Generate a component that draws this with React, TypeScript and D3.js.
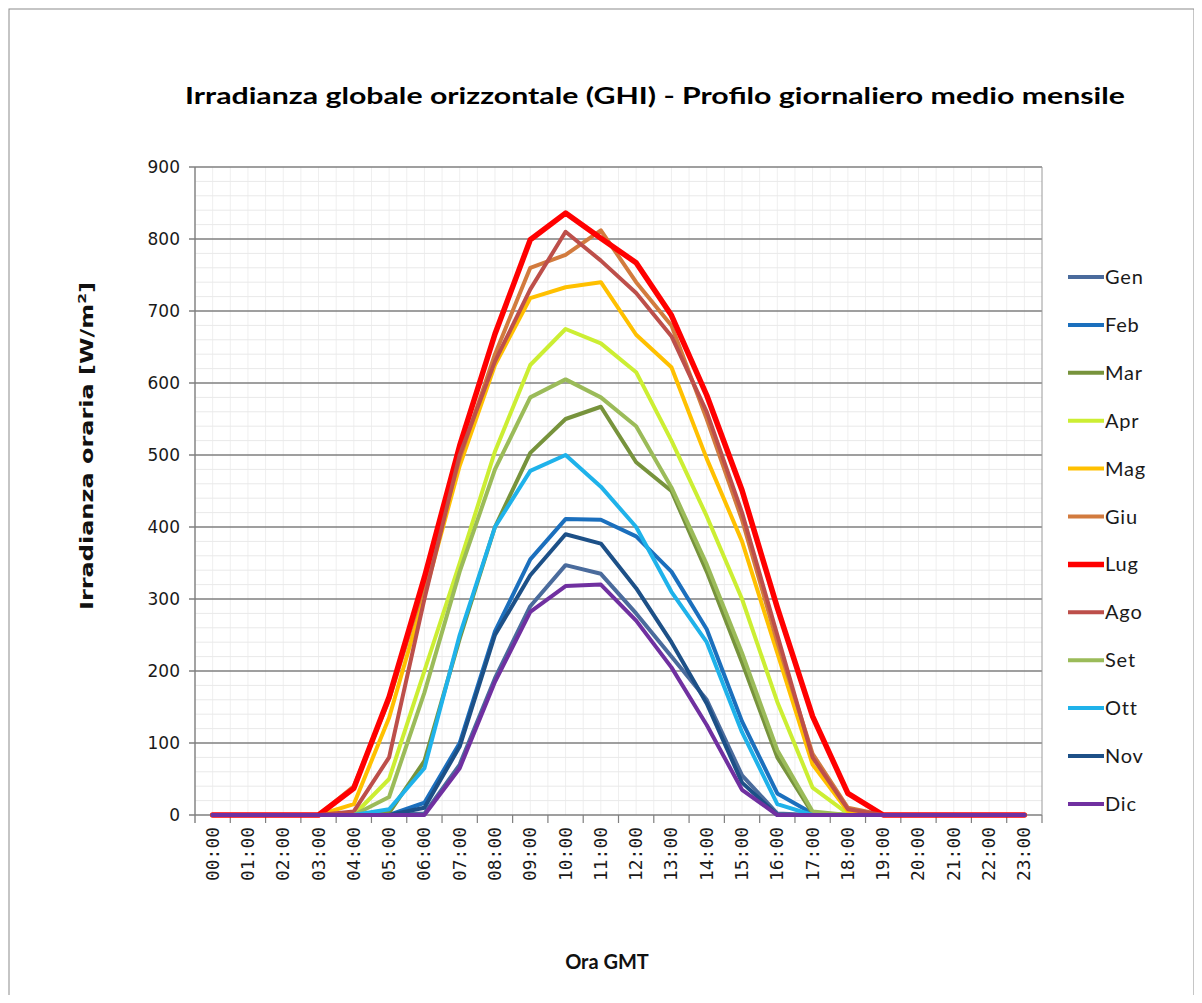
import React from "react";
import * as d3 from "d3";

const hours = ["00:00","01:00","02:00","03:00","04:00","05:00","06:00","07:00","08:00","09:00","10:00","11:00","12:00","13:00","14:00","15:00","16:00","17:00","18:00","19:00","20:00","21:00","22:00","23:00"];
const yTicks = [0, 100, 200, 300, 400, 500, 600, 700, 800, 900];
const months = ["Gen","Feb","Mar","Apr","Mag","Giu","Lug","Ago","Set","Ott","Nov","Dic"];
const colors = ["#4a6b9c","#1b6fbd","#77933c","#ccee33","#ffc000","#d27b3e","#ff0000","#bd4f4a","#9bbb59","#1fb2ea","#1d5087","#7030a0"];

const gen = [0,0,0,0,0,0,2,70,190,290,347,335,280,220,160,55,2,0,0,0,0,0,0,0];
const feb = [0,0,0,0,0,0,17,100,255,355,411,410,387,338,258,130,30,2,0,0,0,0,0,0];
const mar = [0,0,0,0,0,3,75,245,400,503,550,567,490,450,338,212,80,2,0,0,0,0,0,0];
const apr = [0,0,0,0,0,50,200,350,505,625,675,655,615,520,415,300,157,38,2,0,0,0,0,0];
const mag = [0,0,0,0,15,135,305,485,625,718,733,740,667,622,495,380,225,70,5,0,0,0,0,0];
const giu = [0,0,0,0,40,160,320,495,640,760,778,812,740,680,550,410,240,85,10,0,0,0,0,0];
const lug = [0,0,0,0,37,164,330,513,668,799,836,801,767,694,583,451,288,137,30,0,0,0,0,0];
const ago = [0,0,0,0,5,80,300,500,630,730,810,770,725,665,560,420,250,80,8,0,0,0,0,0];
const set = [0,0,0,0,0,25,170,338,480,580,605,580,540,455,348,225,90,5,0,0,0,0,0,0];
const ott = [0,0,0,0,0,8,65,250,400,478,500,456,400,310,240,115,15,0,0,0,0,0,0,0];
const nov = [0,0,0,0,0,0,10,95,250,333,390,377,315,240,155,45,0,0,0,0,0,0,0,0];
const dic = [0,0,0,0,0,0,0,65,185,282,318,320,270,205,125,35,0,0,0,0,0,0,0,0];

const seriesValues = [gen, feb, mar, apr, mag, giu, lug, ago, set, ott, nov, dic];

const W = 1202, H = 1003;
const L = 195, R = 1042, T = 167, B = 815;

export default function App() {
  const x = d3.scaleBand<string>().domain(hours).range([L, R]).paddingInner(0).paddingOuter(0);
  const bw = x.bandwidth();
  const cx = (h: string) => (x(h) as number) + bw / 2;
  const y = d3.scaleLinear().domain([0, 900]).range([B, T]);
  const line = d3.line<number>().x((_, i) => cx(hours[i])).y((v) => y(v));

  const minorY = d3.range(0, 901, 20).filter((v) => v % 100 !== 0);
  const minorX: number[] = [];
  hours.forEach((h) => {
    minorX.push(x(h) as number);
    minorX.push((x(h) as number) + bw / 2);
  });

  const legendY0 = 277, legendStep = 47.9;
  const sw = (m: string) => (m === "Lug" ? 5.5 : 4);

  return (
    <svg width={W} height={H - 16} viewBox={`0 0 ${W} ${H - 16}`} style={{ display: "block" }}>
      <rect x={0} y={0} width={W} height={H} fill="#ffffff" />
      <rect x={1} y={1} width={1185} height={990} fill="#ffffff" stroke="#8c8c8c" strokeWidth={1} />
      <g transform="translate(-8,-8)">
        <text x={655} y={104} textAnchor="middle" fontFamily="Lato, 'Open Sans', sans-serif" fontWeight="bold" fontSize={22} textLength={940} lengthAdjust="spacingAndGlyphs" fill="#000">
          Irradianza globale orizzontale (GHI) - Profilo giornaliero medio mensile
        </text>

        {minorX.map((mx, i) => (
          <line key={"mx" + i} x1={mx} x2={mx} y1={T} y2={B} stroke="#efefef" strokeWidth={1} />
        ))}
        {minorY.map((v) => (
          <line key={"my" + v} x1={L} x2={R} y1={y(v)} y2={y(v)} stroke="#e9e9e9" strokeWidth={1} />
        ))}
        {yTicks.map((v) => (
          <line key={"gy" + v} x1={L - 6} x2={R} y1={y(v)} y2={y(v)} stroke="#7f7f7f" strokeWidth={1.4} />
        ))}
        <line x1={R} x2={R} y1={T} y2={B} stroke="#9a9a9a" strokeWidth={1} />
        <line x1={L} x2={L} y1={T} y2={B + 8} stroke="#7f7f7f" strokeWidth={1.4} />
        {hours.map((h) => (
          <line key={"xt" + h} x1={(x(h) as number) + bw} x2={(x(h) as number) + bw} y1={B} y2={B + 8} stroke="#7f7f7f" strokeWidth={1.2} />
        ))}

        {yTicks.map((v) => (
          <text key={"yl" + v} x={180} y={y(v) + 6} textAnchor="end" fontFamily="'DejaVu Sans', Verdana, sans-serif" fontSize={17} fill="#1a1a1a">
            {v}
          </text>
        ))}
        {hours.map((h) => (
          <text key={"xl" + h} transform={`translate(${cx(h) + 6},${827}) rotate(-90)`} textAnchor="end" fontFamily="'DejaVu Sans Mono', monospace" fontSize={17} textLength={54} lengthAdjust="spacingAndGlyphs" fill="#1a1a1a">
            {h}
          </text>
        ))}

        <text transform="translate(93,446) rotate(-90)" textAnchor="middle" fontFamily="'DejaVu Sans', Verdana, sans-serif" fontWeight="bold" fontSize={17} textLength={328} lengthAdjust="spacingAndGlyphs" fill="#111">
          Irradianza  oraria  [W/m<tspan dy={-7} fontSize={11}>2</tspan><tspan dy={7}>]</tspan>
        </text>
        <text x={607} y={969} textAnchor="middle" fontFamily="Lato, 'Open Sans', sans-serif" fontWeight="bold" fontSize={20} fill="#111">
          Ora GMT
        </text>

        {seriesValues.map((vals, si) => (
          <path key={"s" + si} d={line(vals) as string} fill="none" stroke={colors[si]} strokeWidth={sw(months[si])} strokeLinejoin="round" strokeLinecap="round" />
        ))}

        {months.map((m, i) => (
          <g key={"lg" + m} transform={`translate(0,${legendY0 + i * legendStep})`}>
            <line x1={1068} x2={1104} y1={0} y2={0} stroke={colors[i]} strokeWidth={sw(m)} />
            <text x={1105} y={7} fontFamily="Lato, 'Open Sans', sans-serif" fontSize={20} letterSpacing={0.8} fill="#1a1a1a">{m}</text>
          </g>
        ))}
      </g>
    </svg>
  );
}
